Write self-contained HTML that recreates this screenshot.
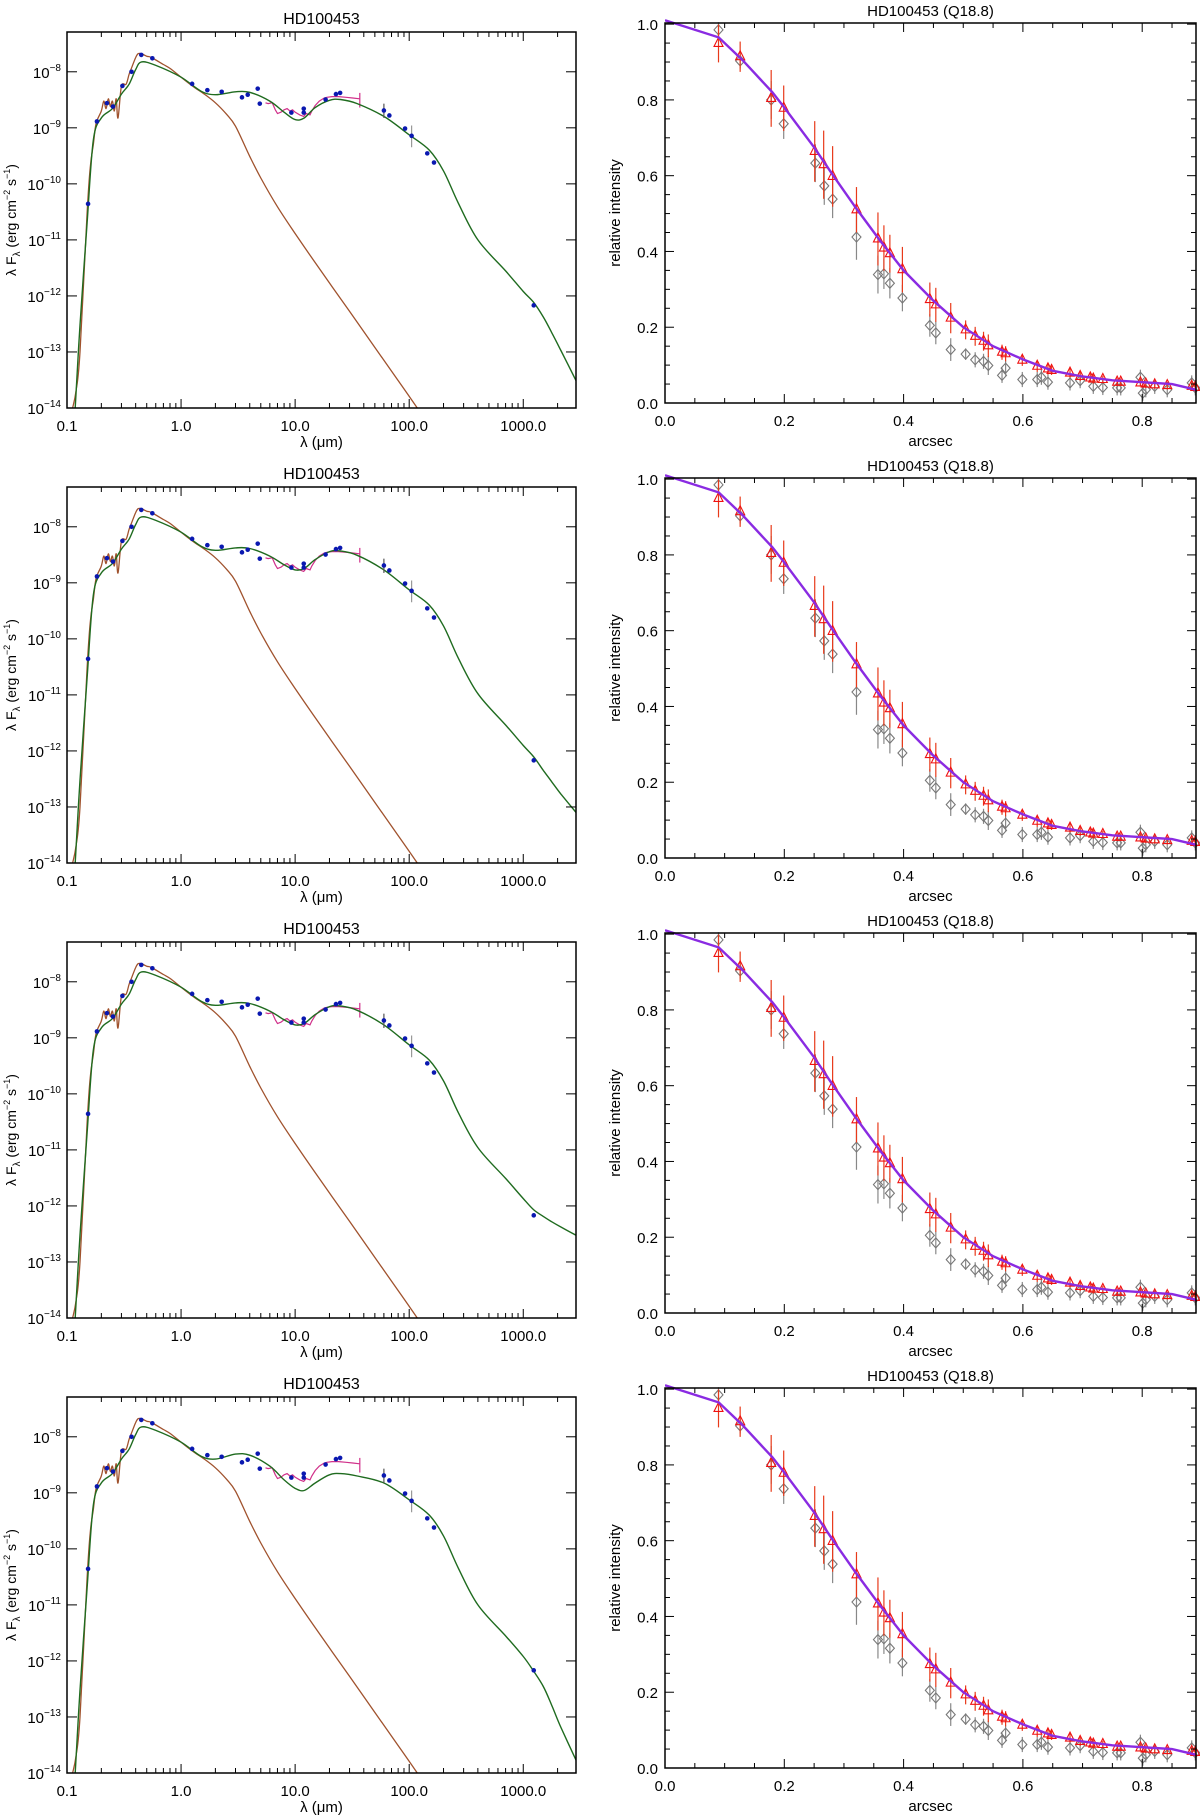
<!DOCTYPE html>
<html><head><meta charset="utf-8"><style>
html,body{margin:0;padding:0;background:#fff;}
svg{display:block;}
text{font-family:"Liberation Sans",sans-serif;fill:#000;}
</style></head><body>
<svg id="fig" width="1200" height="1817" viewBox="0 0 1200 1817" xmlns="http://www.w3.org/2000/svg"></svg>
<script>
// ---- SED data ----
const photLam = [0.153,0.183,0.224,0.253,0.306,0.368,0.448,0.56,1.25,1.70,2.27,3.42,3.84,4.7,4.9,9.27,11.9,11.9,18.5,22.8,24.8,60,67,92,105,144,165,1236];
const photFlux = [4.4e-11,1.3e-9,2.76e-9,2.4e-9,5.6e-9,1e-8,2.0e-8,1.74e-8,6.1e-9,4.7e-9,4.4e-9,3.5e-9,3.9e-9,5.0e-9,2.7e-9,1.87e-9,2.2e-9,1.87e-9,3.2e-9,4.0e-9,4.2e-9,2.04e-9,1.66e-9,9.7e-10,7.2e-10,3.5e-10,2.4e-10,6.8e-13];
const photErrLo = [0,0,0,0,0,0,0,0,0,0,0,0,0,0,0,0,0,0,0,0,0,1.5e-9,0,0,4.5e-10,0,0,0];
const photErrHi = [0,0,0,0,0,0,0,0,0,0,0,0,0,0,0,0,0,0,0,0,0,2.7e-9,0,0,1.1e-9,0,0,0];
const starLam = [0.112,0.12,0.13,0.15,0.16,0.17,0.18,0.2,0.21,0.22,0.23,0.24,0.25,0.26,0.27,0.28,0.3,0.33,0.35,0.37,0.4,0.42,0.45,0.5,0.55,0.7,0.8,1.0,1.3,1.6,2,2.5,3,4,5,7,10,14,20,30,50,80,123];
const starFlux = [1e-14,2e-14,1e-13,3e-11,2e-10,5e-10,1.2e-9,2e-9,3e-9,2.2e-9,3.3e-9,2.4e-9,3e-9,2e-9,3.3e-9,1.5e-9,5.5e-9,6e-9,9e-9,1.2e-8,1.8e-8,2.1e-8,2.1e-8,1.9e-8,1.8e-8,1.35e-8,1.15e-8,8e-9,5.3e-9,4e-9,2.8e-9,1.75e-9,1.07e-9,3.1e-10,1.27e-10,3.9e-11,1.3e-11,4.8e-12,1.7e-12,5.3e-13,1.2e-13,3.1e-14,8.8e-15];
const specLam = [5.5,5.8,6.3,6.7,7.0,7.5,8.0,8.5,9.0,9.5,10.0,11.0,11.9,12.5,13.5,14.0,15.0,16.3,18.0,19.0,21.0,24.0,28.0,32.0,36.9];
const specFlux = [2.8e-9,2.7e-9,2.8e-9,2.1e-9,1.8e-9,1.9e-9,2.1e-9,2.2e-9,2.0e-9,2.1e-9,1.9e-9,1.7e-9,1.6e-9,1.8e-9,1.7e-9,2.0e-9,2.5e-9,3.0e-9,3.4e-9,3.5e-9,3.6e-9,3.6e-9,3.5e-9,3.4e-9,3.3e-9];
const modelLam = [0.118,0.13,0.15,0.17,0.2,0.25,0.3,0.35,0.4,0.45,0.6,1.0,1.5,2,3,4,6,8,10,12,15,20,25,35,60,100,150,200,270,400,700,1000,1236,1500,1780,2140,2900];
const modelP1 = [1e-14,3e-13,2e-11,6e-10,1.5e-9,2.2e-9,4e-9,6e-9,1.1e-8,1.5e-8,1.3e-8,8e-9,4.5e-9,3.9e-9,4.4e-9,4.3e-9,3e-9,1.9e-9,1.4e-9,1.5e-9,2.3e-9,3.1e-9,3.2e-9,2.7e-9,1.6e-9,7.5e-10,4e-10,1.7e-10,4.5e-11,1e-11,2.8e-12,1.2e-12,7.6e-13,4.2e-13,2.2e-13,1.06e-13,3.1e-14];
const modelP2 = [1e-14,3e-13,2e-11,6e-10,1.5e-9,2.2e-9,4e-9,6e-9,1.1e-8,1.5e-8,1.3e-8,8e-9,4.5e-9,3.8e-9,4.2e-9,4.1e-9,3e-9,2.1e-9,1.7e-9,1.8e-9,2.6e-9,3.6e-9,3.7e-9,3.1e-9,1.7e-9,7.5e-10,4e-10,1.7e-10,4.5e-11,1.05e-11,2.9e-12,1.25e-12,7.8e-13,4.5e-13,2.8e-13,1.7e-13,8e-14];
const modelP3 = [1e-14,3e-13,2e-11,6e-10,1.5e-9,2.2e-9,4e-9,6e-9,1.1e-8,1.5e-8,1.3e-8,8e-9,4.5e-9,3.8e-9,4.2e-9,4.1e-9,3e-9,2.1e-9,1.7e-9,1.8e-9,2.6e-9,3.6e-9,3.7e-9,3.1e-9,1.7e-9,7.5e-10,4e-10,1.7e-10,4.6e-11,1.1e-11,3.1e-12,1.35e-12,8.5e-13,6.5e-13,5.2e-13,4.2e-13,3e-13];
const modelP4 = [1e-14,3e-13,2e-11,6e-10,1.5e-9,2.2e-9,4e-9,6e-9,1.1e-8,1.5e-8,1.3e-8,8e-9,4.5e-9,4.0e-9,4.9e-9,4.7e-9,3e-9,1.7e-9,1.2e-9,1.1e-9,1.5e-9,2.1e-9,2.2e-9,2.0e-9,1.5e-9,7.5e-10,4e-10,1.7e-10,4.5e-11,1e-11,2.8e-12,1.2e-12,6.5e-13,3.5e-13,1.6e-13,6.5e-14,1.7e-14];
const sedModels = [modelP1, modelP2, modelP3, modelP4];
const sedXTicks = ["0.1","1.0","10.0","100.0","1000.0"];
const sedYExps = ["-14","-13","-12","-11","-10","-9","-8"];
// ---- radial profile data ----
const triX = [0.0897,0.126,0.178,0.199,0.251,0.266,0.281,0.321,0.357,0.367,0.377,0.398,0.444,0.454,0.479,0.504,0.52,0.534,0.542,0.565,0.571,0.599,0.624,0.642,0.648,0.679,0.696,0.713,0.718,0.734,0.758,0.764,0.797,0.806,0.821,0.842,0.883,0.889];
const triY = [0.949,0.914,0.804,0.778,0.664,0.629,0.598,0.51,0.433,0.409,0.394,0.352,0.273,0.259,0.224,0.193,0.176,0.163,0.151,0.134,0.130,0.113,0.097,0.090,0.086,0.079,0.070,0.066,0.063,0.062,0.055,0.055,0.053,0.050,0.048,0.046,0.044,0.041];
const triErr = [0.05,0.04,0.075,0.06,0.08,0.09,0.08,0.06,0.07,0.06,0.05,0.06,0.045,0.045,0.04,0.025,0.025,0.025,0.03,0.02,0.02,0.015,0.015,0.015,0.012,0.012,0.012,0.012,0.012,0.01,0.01,0.01,0.01,0.01,0.01,0.01,0.01,0.01];
const diaX = [0.0897,0.126,0.178,0.199,0.252,0.267,0.281,0.321,0.357,0.367,0.377,0.398,0.444,0.454,0.479,0.504,0.52,0.534,0.542,0.565,0.571,0.599,0.624,0.631,0.642,0.679,0.696,0.718,0.734,0.758,0.764,0.797,0.801,0.806,0.821,0.842,0.883,0.889];
const diaY = [0.985,0.903,0.80,0.737,0.633,0.573,0.538,0.438,0.339,0.341,0.316,0.277,0.205,0.185,0.141,0.129,0.114,0.11,0.099,0.073,0.092,0.062,0.062,0.068,0.055,0.053,0.059,0.044,0.041,0.040,0.040,0.068,0.026,0.035,0.044,0.035,0.053,0.040];
const diaErr = [0.02,0.02,0.05,0.04,0.05,0.05,0.05,0.06,0.05,0.04,0.04,0.035,0.03,0.03,0.03,0.015,0.02,0.02,0.025,0.02,0.02,0.02,0.02,0.02,0.02,0.02,0.02,0.02,0.02,0.02,0.02,0.02,0.02,0.02,0.02,0.02,0.02,0.02];
const profX = [0,0.09,0.13,0.18,0.2,0.25,0.28,0.32,0.36,0.4,0.45,0.5,0.55,0.6,0.65,0.7,0.75,0.8,0.85,0.89];
const profY = [1.01,0.965,0.905,0.82,0.78,0.675,0.605,0.515,0.43,0.35,0.27,0.2,0.15,0.115,0.085,0.07,0.06,0.055,0.05,0.035];
const profXTicks = ["0.0","0.2","0.4","0.6","0.8"];
const profYTicks = ["0.0","0.2","0.4","0.6","0.8","1.0"];

const NS = "http://www.w3.org/2000/svg";
const svg = document.getElementById('fig');
function mk(tag, attrs, parent) {
  const e = document.createElementNS(NS, tag);
  for (const k in attrs) e.setAttribute(k, attrs[k]);
  (parent || svg).appendChild(e);
  return e;
}
const PERIOD = 455;

const SL = 67, SR = 576, STOP = 32, SBOT = 408;
const LX0 = -1, LX1 = Math.log10(2900), LY0 = -14, LY1 = -7.29;
function sx(l) { return SL + (Math.log10(l) - LX0) / (LX1 - LX0) * (SR - SL); }
function syf(oy) { return f => oy + SBOT - (Math.log10(f) - LY0) / (LY1 - LY0) * (SBOT - STOP); }

function polyPath(xs, ys, fx, fy) {
  let d = '';
  for (let i = 0; i < xs.length; i++) d += (i ? 'L' : 'M') + fx(xs[i]).toFixed(1) + ',' + fy(ys[i]).toFixed(1);
  return d;
}
function smoothPath(xs, ys, fx, fy) {
  const P = xs.map((x, i) => [fx(x), fy(ys[i])]);
  let d = 'M' + P[0][0].toFixed(1) + ',' + P[0][1].toFixed(1);
  for (let i = 0; i < P.length - 1; i++) {
    const p0 = P[Math.max(0, i - 1)], p1 = P[i], p2 = P[i + 1], p3 = P[Math.min(P.length - 1, i + 2)];
    const c1 = [p1[0] + (p2[0] - p0[0]) / 6, p1[1] + (p2[1] - p0[1]) / 6];
    const c2 = [p2[0] - (p3[0] - p1[0]) / 6, p2[1] - (p3[1] - p1[1]) / 6];
    d += 'C' + c1[0].toFixed(1) + ',' + c1[1].toFixed(1) + ' ' + c2[0].toFixed(1) + ',' + c2[1].toFixed(1) + ' ' + p2[0].toFixed(1) + ',' + p2[1].toFixed(1);
  }
  return d;
}

function sedPanel(p) {
  const oy = p * PERIOD;
  const sy = syf(oy);
  const g = mk('g', {});
  
  
  const clipId = 'sedclip' + p;
  const cp = mk('clipPath', {id: clipId}, g);
  mk('rect', {x: SL, y: oy + STOP, width: SR - SL, height: SBOT - STOP}, cp);
  const t = mk('text', {x: (SL + SR) / 2, y: oy + 24, 'text-anchor': 'middle', 'font-size': 16}, g);
  t.textContent = 'HD100453';
  
  
  const plot = mk('g', {'clip-path': 'url(#' + clipId + ')'}, g);
  const star = mk('path', {d: smoothPath(starLam, starFlux, sx, sy), fill: 'none', stroke: '#a0522d', 'stroke-width': 1.3}, plot);
  
  
  const spec = mk('path', {d: polyPath(specLam, specFlux, sx, sy), fill: 'none', stroke: '#d0308a', 'stroke-width': 1.2}, plot);
  
  
  const specEnd = mk('line', {x1: sx(specLam[specLam.length-1]), x2: sx(specLam[specLam.length-1]), y1: sy(4.2e-9), y2: sy(2.3e-9), stroke: '#d0308a', 'stroke-width': 1.2}, plot);
  
  
  const model = mk('path', {d: smoothPath(modelLam, sedModels[p], sx, sy), fill: 'none', stroke: '#1f6b1f', 'stroke-width': 1.4}, plot);
  
  
  for (let i = 0; i < photLam.length; i++) {
    if (photErrLo[i] > 0) {
      const eb = mk('line', {x1: sx(photLam[i]), x2: sx(photLam[i]), y1: sy(photErrLo[i]), y2: sy(photErrHi[i]), stroke: i === 24 ? '#999' : '#555', 'stroke-width': 1.2}, plot);
      
      
    }
    const c = mk('circle', {cx: sx(photLam[i]), cy: sy(photFlux[i]), r: 2.3, fill: '#0a18b0'}, plot);
    
    
  }
  const box = mk('rect', {x: SL, y: oy + STOP, width: SR - SL, height: SBOT - STOP, fill: 'none', stroke: '#000', 'stroke-width': 1.5}, g);
  
  
  for (let d = -1; d <= 3; d++) {
    for (let m = 1; m <= 9; m++) {
      const l = m * Math.pow(10, d);
      if (l > 2900) break;
      const x = sx(l), len = m === 1 ? 9 : 5;
      mk('line', {x1: x, x2: x, y1: oy + SBOT, y2: oy + SBOT - len, stroke: '#000', 'stroke-width': 1}, g);
      mk('line', {x1: x, x2: x, y1: oy + STOP, y2: oy + STOP + len, stroke: '#000', 'stroke-width': 1}, g);
    }
  }
  sedXTicks.forEach((lab, i) => {
    const tx = mk('text', {x: sx(Math.pow(10, i - 1)), y: oy + 431, 'text-anchor': 'middle', 'font-size': 15}, g);
    tx.textContent = lab;
    
    
  });
  sedYExps.forEach((ex) => {
    const y = sy(Math.pow(10, +ex));
    mk('line', {x1: SL, x2: SL + 10, y1: y, y2: y, stroke: '#000', 'stroke-width': 1}, g);
    mk('line', {x1: SR, x2: SR - 10, y1: y, y2: y, stroke: '#000', 'stroke-width': 1}, g);
    const ty = mk('text', {x: 61, y: y + 6, 'text-anchor': 'end', 'font-size': 15}, g);
    
    
    const a = mk('tspan', {}, ty); a.textContent = '10';
    const b = mk('tspan', {dy: -7, 'font-size': 10}, ty); b.textContent = ex.replace('-', '\u2212');
  });
  const xl = mk('text', {x: (SL + SR) / 2, y: oy + 447, 'text-anchor': 'middle', 'font-size': 15}, g);
  xl.textContent = 'λ (μm)';
  
  
  const yl = mk('text', {x: 0, y: 0, 'text-anchor': 'middle', 'font-size': 14, transform: 'translate(16,' + (oy + 220) + ') rotate(-90)'}, g);
  
  
  const s1 = mk('tspan', {}, yl); s1.textContent = 'λ F';
  const s2 = mk('tspan', {dy: 4, 'font-size': 10}, yl); s2.textContent = 'λ';
  const s3 = mk('tspan', {dy: -4}, yl); s3.textContent = ' (erg cm';
  const s4 = mk('tspan', {dy: -6, 'font-size': 9}, yl); s4.textContent = '−2';
  const s5 = mk('tspan', {dy: 6}, yl); s5.textContent = ' s';
  const s6 = mk('tspan', {dy: -6, 'font-size': 9}, yl); s6.textContent = '−1';
  const s7 = mk('tspan', {dy: 6}, yl); s7.textContent = ')';
}

const RL = 665, RR = 1196, RTOP = 23, RBOT = 403;
const PX1 = (RR - RL) / 596.5 * 1.0, PY1 = 1.003;
function px(v) { return RL + v / PX1 * (RR - RL); }
function pyf(oy) { return v => oy + RBOT - v / PY1 * (RBOT - RTOP); }

function profPanel(p) {
  const oy = p * PERIOD;
  const py = pyf(oy);
  const g = mk('g', {});
  
  
  const clipId = 'pclip' + p;
  const cp = mk('clipPath', {id: clipId}, g);
  mk('rect', {x: RL, y: oy + RTOP - 4, width: RR - RL + 6, height: RBOT - RTOP + 8}, cp);
  const t = mk('text', {x: (RL + RR) / 2, y: oy + 16, 'text-anchor': 'middle', 'font-size': 15}, g);
  t.textContent = 'HD100453 (Q18.8)';
  
  
  const plot = mk('g', {'clip-path': 'url(#' + clipId + ')'}, g);
  for (let i = 0; i < diaX.length; i++) {
    const x = px(diaX[i]), y = py(diaY[i]);
    const e = mk('line', {x1: x, x2: x, y1: py(diaY[i] - diaErr[i]), y2: py(diaY[i] + diaErr[i]), stroke: '#888', 'stroke-width': 1.2}, plot);
    
    
    const d = mk('path', {d: `M${x},${y-5}L${x+4.5},${y}L${x},${y+5}L${x-4.5},${y}Z`, fill: 'none', stroke: '#777', 'stroke-width': 1.1}, plot);
    
    
  }
  for (let i = 0; i < triX.length; i++) {
    const x = px(triX[i]), y = py(triY[i]);
    const e = mk('line', {x1: x, x2: x, y1: py(triY[i] - triErr[i]), y2: py(triY[i] + triErr[i]), stroke: '#e83a1a', 'stroke-width': 1.2}, plot);
    
    
    const tr = mk('path', {d: `M${x},${y-6}L${x+4.5},${y+3}L${x-4.5},${y+3}Z`, fill: 'none', stroke: '#f01010', 'stroke-width': 1.1}, plot);
    
    
  }
  const line = mk('path', {d: polyPath(profX, profY, px, py), fill: 'none', stroke: '#8a2be2', 'stroke-width': 2.4}, plot);
  
  
  const box = mk('rect', {x: RL, y: oy + RTOP, width: RR - RL, height: RBOT - RTOP, fill: 'none', stroke: '#000', 'stroke-width': 1.5}, g);
  
  
  for (let k = 0; k * 0.05 <= PX1 + 1e-6; k++) {
    const x = px(k * 0.05), len = k % 4 === 0 ? 9 : 5;
    mk('line', {x1: x, x2: x, y1: oy + RBOT, y2: oy + RBOT - len, stroke: '#000', 'stroke-width': 1}, g);
    mk('line', {x1: x, x2: x, y1: oy + RTOP, y2: oy + RTOP + len, stroke: '#000', 'stroke-width': 1}, g);
  }
  for (let k = 0; k <= 20; k++) {
    const y = py(k * 0.05), len = k % 4 === 0 ? 9 : 5;
    mk('line', {x1: RL, x2: RL + len, y1: y, y2: y, stroke: '#000', 'stroke-width': 1}, g);
    mk('line', {x1: RR, x2: RR - len, y1: y, y2: y, stroke: '#000', 'stroke-width': 1}, g);
  }
  profXTicks.forEach(lab => {
    const tx = mk('text', {x: px(+lab), y: oy + 426, 'text-anchor': 'middle', 'font-size': 15}, g);
    tx.textContent = lab;
    
    
  });
  profYTicks.forEach(lab => {
    const ty = mk('text', {x: 658, y: py(+lab) + 6, 'text-anchor': 'end', 'font-size': 15}, g);
    ty.textContent = lab;
    
    
  });
  const xl = mk('text', {x: (RL + RR) / 2, y: oy + 446, 'text-anchor': 'middle', 'font-size': 15}, g);
  xl.textContent = 'arcsec';
  
  
  const yl = mk('text', {x: 0, y: 0, 'text-anchor': 'middle', 'font-size': 15, transform: 'translate(620,' + (oy + 213) + ') rotate(-90)'}, g);
  yl.textContent = 'relative intensity';
  
  
}

for (let p = 0; p < 4; p++) { sedPanel(p); profPanel(p); }
</script>
</body></html>
